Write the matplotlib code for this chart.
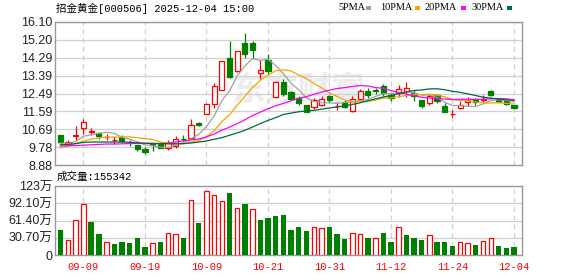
import matplotlib
matplotlib.use('Agg')

import numpy as np
from matplotlib import pyplot as plt
from matplotlib.patches import Rectangle

title = '招金黄金[000506] 2025-12-04 15:00'
vol_title = '成交量:155342'

# candles, one per trading day (60 days)
opens = [10.38, 9.93, 10.35, 10.75, 10.56, 10.48, 10.28, 10.14, 10.29, 10.05,
         9.89, 9.70, 9.93, 9.96, 9.74, 9.84, 10.20, 10.24, 11.00, 11.44,
         11.94, 12.65, 14.28, 13.63, 15.04, 15.04, 13.54, 14.20, 12.30, 13.07,
         12.57, 12.28, 11.90, 11.83, 11.93, 12.36, 11.86, 12.03, 11.60, 12.21,
         12.62, 12.66, 12.87, 12.43, 12.51, 12.62, 12.50, 12.15, 11.99, 12.40,
         11.86, 11.46, 11.76, 12.04, 12.19, 12.18, 12.63, 12.18, 12.10, 11.90]
highs = [10.40, 10.12, 10.85, 11.18, 10.75, 10.55, 10.43, 10.29, 10.38, 10.16,
         9.89, 9.79, 9.95, 9.98, 10.13, 10.33, 10.38, 11.19, 11.05, 12.00,
         13.02, 14.11, 15.14, 14.62, 15.54, 15.14, 14.16, 14.50, 13.10, 13.21,
         12.60, 12.36, 11.92, 12.24, 12.36, 12.41, 12.04, 12.16, 12.38, 12.70,
         12.78, 12.78, 12.99, 12.53, 12.90, 13.06, 12.68, 12.15, 12.48, 12.48,
         12.01, 11.64, 12.09, 12.31, 12.26, 12.43, 12.67, 12.22, 12.12, 11.92]
lows = [9.99, 9.86, 10.13, 10.46, 10.41, 10.21, 10.16, 9.95, 10.04, 9.84,
        9.59, 9.45, 9.57, 9.72, 9.62, 9.74, 10.07, 10.18, 10.83, 11.44,
        11.76, 12.65, 13.29, 13.58, 14.28, 14.28, 13.24, 13.49, 12.26, 12.36,
        12.20, 11.90, 11.56, 11.72, 11.86, 12.08, 11.67, 11.74, 11.56, 12.16,
        12.25, 12.45, 12.36, 12.13, 12.33, 12.30, 12.10, 11.77, 11.93, 12.03,
        11.56, 11.30, 11.72, 11.86, 11.93, 12.06, 12.38, 12.05, 11.93, 11.76]
closes = [10.02, 10.02, 10.37, 11.05, 10.58, 10.33, 10.30, 10.16, 10.09, 10.03,
          9.67, 9.54, 9.91, 9.74, 10.01, 10.21, 10.18, 10.88, 10.88, 11.94,
          12.85, 14.11, 13.32, 14.62, 14.50, 14.70, 13.66, 13.61, 13.07, 12.48,
          12.23, 12.02, 11.57, 12.15, 12.19, 12.16, 11.87, 11.82, 12.21, 12.61,
          12.42, 12.64, 12.53, 12.26, 12.74, 12.75, 12.36, 11.88, 12.35, 12.11,
          11.57, 11.48, 11.91, 12.14, 12.07, 12.20, 12.40, 12.08, 11.95, 11.78]

ma5 = [9.98, 9.97, 10.06, 10.33, 10.41, 10.47, 10.53, 10.48, 10.29, 10.18,
       10.05, 9.90, 9.85, 9.78, 9.77, 9.88, 10.01, 10.20, 10.43, 10.82,
       11.35, 12.13, 12.62, 13.37, 13.88, 14.25, 14.16, 14.22, 13.91, 13.50,
       13.01, 12.68, 12.27, 12.09, 12.03, 12.02, 11.99, 12.04, 12.05, 12.13,
       12.19, 12.34, 12.48, 12.49, 12.52, 12.58, 12.53, 12.40, 12.42, 12.29,
       12.05, 11.88, 11.88, 11.84, 11.83, 11.96, 12.14, 12.18, 12.14, 12.08]
ma10 = [9.74, 9.84, 9.96, 10.09, 10.18, 10.26, 10.29, 10.29, 10.29, 10.30,
        10.26, 10.21, 10.17, 10.04, 9.98, 9.97, 9.95, 10.03, 10.11, 10.30,
        10.61, 11.07, 11.41, 11.90, 12.35, 12.80, 13.15, 13.42, 13.64, 13.69,
        13.63, 13.42, 13.25, 13.00, 12.77, 12.51, 12.34, 12.16, 12.07, 12.08,
        12.10, 12.16, 12.26, 12.27, 12.33, 12.39, 12.43, 12.44, 12.45, 12.40,
        12.32, 12.20, 12.14, 12.13, 12.06, 12.01, 12.01, 12.03, 11.99, 11.96]
ma20 = [9.84, 9.85, 9.86, 9.88, 9.90, 9.92, 9.94, 9.94, 9.95, 9.96,
        9.97, 9.97, 9.97, 9.96, 9.98, 10.04, 10.10, 10.14, 10.19, 10.30,
        10.44, 10.64, 10.79, 10.97, 11.16, 11.38, 11.55, 11.72, 11.87, 11.99,
        12.12, 12.25, 12.33, 12.45, 12.56, 12.66, 12.74, 12.79, 12.85, 12.89,
        12.87, 12.79, 12.75, 12.64, 12.55, 12.45, 12.38, 12.30, 12.26, 12.24,
        12.21, 12.18, 12.20, 12.20, 12.19, 12.20, 12.22, 12.24, 12.22, 12.18]
ma30 = [9.90, 9.92, 9.96, 10.02, 10.04, 10.04, 10.04, 10.04, 10.04, 10.02,
        10.00, 9.98, 9.97, 9.96, 9.95, 9.95, 9.96, 9.99, 10.04, 10.09,
        10.18, 10.26, 10.38, 10.50, 10.63, 10.80, 10.97, 11.13, 11.27, 11.43,
        11.50, 11.57, 11.61, 11.64, 11.70, 11.76, 11.81, 11.87, 11.94, 12.02,
        12.12, 12.22, 12.31, 12.39, 12.48, 12.57, 12.64, 12.67, 12.72, 12.73,
        12.68, 12.60, 12.55, 12.47, 12.39, 12.30, 12.26, 12.21, 12.17, 12.15]

# volume in 万
volume = [44.6, 26.7, 61.8, 90.9, 58.8, 37.4, 22.6, 19.6, 23.2, 21.4,
          30.3, 14.3, 20.8, 23.2, 38.6, 36.8, 30.3, 97.4, 57.0, 113.5,
          107.0, 95.7, 110.5, 83.2, 90.9, 81.4, 62.4, 66.0, 69.5, 71.3,
          44.6, 49.9, 42.8, 49.9, 48.1, 49.9, 37.4, 28.5, 39.2, 37.4,
          30.3, 30.3, 39.2, 23.8, 49.9, 35.6, 30.3, 26.7, 35.6, 23.8,
          23.8, 16.0, 23.2, 21.4, 17.8, 25.0, 30.3, 16.0, 12.5, 14.3]
vol_up = [0, 1, 1, 1, 0, 0, 1, 0, 0, 0,
          0, 0, 1, 0, 1, 1, 0, 1, 0, 1,
          1, 1, 0, 1, 0, 1, 0, 0, 0, 0,
          0, 0, 0, 1, 1, 0, 0, 0, 1, 1,
          0, 1, 0, 0, 1, 0, 0, 0, 1, 0,
          0, 0, 1, 1, 0, 1, 1, 0, 0, 0]

date_pos = [3, 11, 19, 27, 35, 43, 51, 59]
date_labels = ['09-09', '09-19', '10-09', '10-21', '10-31', '11-12', '11-24', '12-04']

price_ticks = [8.88, 9.78, 10.69, 11.59, 12.49, 13.39, 14.29, 15.20, 16.10]
price_labels = ['8.88', '9.78', '10.69', '11.59', '12.49', '13.39', '14.29', '15.20', '16.10']
vol_ticks = [0, 30.7, 61.4, 92.1, 122.8]
vol_labels = ['0', '30.70万', '61.40万', '92.10万', '123万']

ma_names = ['5PMA', '10PMA', '20PMA', '30PMA']
ma_colors = ['#a0a0a0', '#f5a300', '#ff00ff', '#006a35']

RED = '#ff0000'
GREEN = '#008000'
GRID = '#d0d0d0'
BORDER = '#999999'
cjk = ['Noto Sans CJK SC', 'DejaVu Sans']
mono_cjk = ['Liberation Mono', 'Noto Sans CJK SC']
num_font = ['Liberation Sans', 'Noto Sans CJK SC']

W, H = 578, 276
fig = plt.figure(figsize=(W / 100, H / 100), dpi=100)

def px_axes(left, top, right, bottom):
    return fig.add_axes([left / W, 1 - bottom / H, (right - left) / W, (bottom - top) / H])

ax = px_axes(55, 22, 522, 165)
axv = px_axes(55, 186, 522, 255)

n = len(closes)
x = np.arange(n)

for a in (ax, axv):
    a.set_xlim(-0.7, n - 1 + 1.05)
    for s in a.spines.values():
        s.set_color(BORDER)
        s.set_linewidth(1.0)
    a.set_xticks(date_pos)
    a.xaxis.grid(True, color=GRID, linestyle=(0, (4, 3)), linewidth=0.9)
    a.yaxis.grid(True, color=GRID, linestyle='-', linewidth=0.9)
    a.set_axisbelow(True)
    a.tick_params(length=0)

# price panel
ax.set_ylim(price_ticks[0], price_ticks[-1])
ax.set_yticks(price_ticks)
ax.set_yticklabels(price_labels, fontsize=9, family=num_font, color='#222222')
ax.tick_params(axis='y', pad=2)
ax.set_xticklabels([])

ax.text(0.52, 0.52, '东方财富', transform=ax.transAxes, ha='center', va='center',
        fontsize=24, fontweight='bold', style='italic', color='#ececec',
        family=cjk, zorder=0)

bw = 0.68
for i in x:
    up = closes[i] >= opens[i]
    c = RED if up else GREEN
    ax.vlines(i, lows[i], highs[i], color=c, linewidth=0.9, zorder=2)
    bottom = min(opens[i], closes[i])
    h = max(abs(closes[i] - opens[i]), 0.012)
    ax.add_patch(Rectangle((i - bw / 2, bottom), bw, h,
                           facecolor='white' if up else GREEN,
                           edgecolor=c, linewidth=0.9, zorder=3))

for vals, col in zip([ma5, ma10, ma20, ma30], ma_colors):
    ax.plot(x, vals, color=col, linewidth=0.9, zorder=4)

# volume panel
axv.set_ylim(0, vol_ticks[-1])
axv.set_yticks(vol_ticks)
axv.set_yticklabels(vol_labels, fontsize=9, family=num_font, color='#222222')
axv.tick_params(axis='y', pad=2)
axv.set_xticklabels(date_labels, fontsize=7.5, family='Liberation Mono', color=RED)
axv.tick_params(axis='x', pad=5)

vw = 0.7
for i in x:
    if vol_up[i]:
        axv.bar(i, volume[i], width=vw - 0.1, facecolor='white', edgecolor=RED,
                linewidth=0.9, zorder=3)
    else:
        axv.bar(i, volume[i], width=vw, color=GREEN, linewidth=0, zorder=3)

# header texts
fig.text(56 / W, 1 - 8 / H, title, fontsize=7.6, family=mono_cjk, va='center', ha='left')
fig.text(57 / W, 1 - 177 / H, vol_title, fontsize=7.6, family=mono_cjk, va='center', ha='left')

label_x = [338, 380, 425, 472]
mark_x = [366, 415, 461, 507]
for name, col, lx, mx in zip(ma_names, ma_colors, label_x, mark_x):
    fig.text(lx / W, 1 - 8 / H, name, fontsize=7.4, family='Liberation Serif',
             va='center', ha='left')
    fig.patches.append(Rectangle((mx / W, 1 - 9.5 / H), 5 / W, 3 / H,
                                 transform=fig.transFigure, facecolor=col,
                                 edgecolor='none'))

plt.savefig('out.png', dpi=100)
